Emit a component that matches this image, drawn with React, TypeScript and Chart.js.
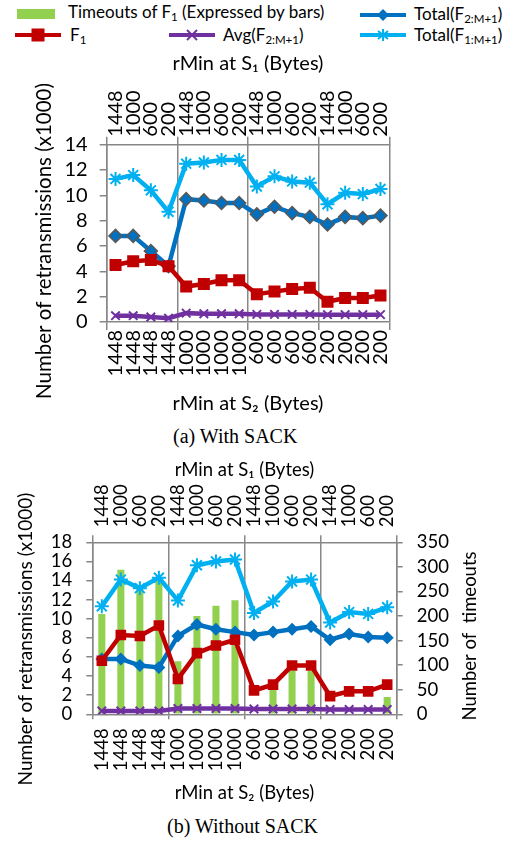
import React, { useEffect, useRef } from "react";
import { Chart, registerables } from "chart.js";

Chart.register(...registerables);

// ---------- data ----------
const S1_LABELS = ["1448", "1000", "600", "200", "1448", "1000", "600", "200", "1448", "1000", "600", "200", "1448", "1000", "600", "200"];
const S2_LABELS = ["1448", "1448", "1448", "1448", "1000", "1000", "1000", "1000", "600", "600", "600", "600", "200", "200", "200", "200"];

// (a) With SACK  (x1000 retransmissions)
const A_TOTAL_F1 = [11.3, 11.6, 10.4, 8.7, 12.5, 12.6, 12.8, 12.8, 10.7, 11.5, 11.1, 11.0, 9.3, 10.2, 10.1, 10.5];
const A_TOTAL_F2 = [6.8, 6.8, 5.6, 4.4, 9.7, 9.6, 9.4, 9.4, 8.5, 9.1, 8.6, 8.3, 7.7, 8.3, 8.2, 8.4];
const A_F1 = [4.5, 4.8, 4.9, 4.4, 2.8, 3.0, 3.3, 3.3, 2.2, 2.4, 2.6, 2.7, 1.6, 1.9, 1.9, 2.1];
const A_AVG = [0.5, 0.5, 0.4, 0.3, 0.7, 0.65, 0.65, 0.65, 0.6, 0.6, 0.6, 0.6, 0.58, 0.58, 0.58, 0.58];

// (b) Without SACK
const B_TOTAL_F1 = [11.3, 14.1, 13.2, 14.3, 11.9, 15.6, 16.0, 16.2, 10.6, 11.8, 13.9, 14.1, 9.6, 10.7, 10.5, 11.2];
const B_TOTAL_F2 = [5.8, 5.8, 5.1, 4.9, 8.2, 9.4, 8.9, 8.6, 8.3, 8.6, 8.9, 9.2, 7.8, 8.4, 8.1, 8.0];
const B_F1 = [5.6, 8.3, 8.2, 9.3, 3.7, 6.4, 7.2, 7.8, 2.5, 3.1, 5.1, 5.1, 1.9, 2.4, 2.4, 3.1];
const B_AVG = [0.35, 0.35, 0.35, 0.35, 0.6, 0.6, 0.6, 0.6, 0.55, 0.55, 0.55, 0.55, 0.5, 0.5, 0.5, 0.5];
const B_TIMEOUTS = [204, 294, 255, 272, 108, 200, 221, 232, 0, 50, 88, 88, 0, 0, 0, 35];

const Y_TITLE = "Number of retransmissions (x1000)";
const Y2_TITLE = "Number of  timeouts";

// ---------- styles ----------
const C_LIGHT = "#00B0F0";
const C_DARK = "#0070C0";
const C_RED = "#C00000";
const C_PURPLE = "#7030A0";
const C_GREEN = "#92D050";
const GRID = "#878787";
const FONT = "Lato";

const groupGrid = (ctx: any) =>
  ctx.index === undefined || ctx.index % 4 === 0 ? GRID : "rgba(0,0,0,0)";

function lineDs(label: string, data: number[], color: string, pointStyle: string, radius: number, order: number, pointBorder?: string) {
  const stroked = pointStyle === "star" || pointStyle === "crossRot";
  return {
    type: "line" as const,
    label,
    data,
    order,
    xAxisID: "x",
    yAxisID: "y",
    borderColor: color,
    backgroundColor: color,
    borderWidth: 4.5,
    tension: 0,
    pointStyle,
    pointRadius: radius,
    pointHoverRadius: radius,
    pointBackgroundColor: color,
    pointBorderColor: pointBorder || color,
    pointBorderWidth: stroked ? 2 : pointBorder ? 1.5 : 0,
  };
}

// vertical axis titles (drawn bottom-to-top, placed like the original)
function verticalTitles(items: { text: string; x: number; y: number; size: number }[]) {
  return {
    id: "verticalTitles",
    afterDraw(chart: any) {
      const ctx = chart.ctx;
      for (const it of items) {
        ctx.save();
        ctx.translate(it.x, it.y);
        ctx.rotate(-Math.PI / 2);
        ctx.fillStyle = "#000";
        ctx.font = `${it.size}px ${FONT}`;
        ctx.textAlign = "center";
        ctx.textBaseline = "middle";
        ctx.fillText(it.text, 0, 0);
        ctx.restore();
      }
    },
  };
}

function xScales(o: {
  tickSize: number; titleSize: number; bottomH: number; topH: number;
  tickLenTop: number; tickLenBottom: number; padTop: number; padBottom: number;
  titleTopPad: number; titleBottomPad: number;
}) {
  const tickFont = { family: FONT, size: o.tickSize };
  const titleFont = { family: FONT, size: o.titleSize };
  return {
    x: {
      type: "category",
      position: "bottom",
      offset: true,
      grid: { offset: true, color: groupGrid, lineWidth: 1.5, tickLength: o.tickLenBottom, drawOnChartArea: true },
      border: { color: GRID, width: 1.5 },
      ticks: { autoSkip: false, minRotation: 90, maxRotation: 90, padding: o.padBottom, color: "#000", font: tickFont },
      title: { display: true, text: "rMin at S\u2082 (Bytes)", color: "#000", font: titleFont, padding: { top: 0, bottom: o.titleBottomPad } },
      afterFit: (s: any) => { s.height = o.bottomH; },
    },
    x2: {
      type: "category",
      position: "top",
      labels: S1_LABELS,
      offset: true,
      grid: { offset: true, color: groupGrid, lineWidth: 1.5, tickLength: o.tickLenTop, drawOnChartArea: false },
      border: { color: GRID, width: 1.5 },
      ticks: {
        autoSkip: false, minRotation: 90, maxRotation: 90, padding: o.padTop, color: "#000", font: tickFont,
        labelOffset: o.tickSize * 1.2,
      },
      title: { display: true, text: "rMin at S\u2081 (Bytes)", color: "#000", font: titleFont, padding: { top: o.titleTopPad, bottom: 0 } },
      afterFit: (s: any) => { s.height = o.topH; },
    },
  };
}

function buildA(canvas: HTMLCanvasElement) {
  return new Chart(canvas, {
    type: "line",
    data: {
      labels: S2_LABELS,
      datasets: [
        lineDs("F1", A_F1, C_RED, "rect", 8.5, 0),
        lineDs("Total(F2:M+1)", A_TOTAL_F2, C_DARK, "rectRot", 6.5, 1, "#595959"),
        lineDs("Total(F1:M+1)", A_TOTAL_F1, C_LIGHT, "star", 7, 2),
        lineDs("Avg(F2:M+1)", A_AVG, C_PURPLE, "crossRot", 6, 3),
      ] as any,
    },
    plugins: [verticalTitles([{ text: Y_TITLE, x: 44, y: 241 - 48, size: 20.5 }])],
    options: {
      responsive: false,
      animation: false,
      events: [],
      layout: { padding: { left: 0, right: 128.7, top: 0, bottom: 0 } },
      plugins: { legend: { display: false }, tooltip: { enabled: false } },
      scales: {
        ...xScales({ tickSize: 20, titleSize: 20, bottomH: 100, topH: 96.7, tickLenTop: 8, tickLenBottom: 8, padTop: 0, padBottom: 0, titleTopPad: 4, titleBottomPad: 6 }),
        y: {
          type: "linear",
          position: "left",
          min: 0,
          max: 14,
          ticks: { stepSize: 2, autoSkip: false, padding: 12, color: "#000", font: { family: FONT, size: 20 } },
          grid: { drawOnChartArea: false, color: GRID, lineWidth: 1.5, tickLength: 7 },
          border: { color: GRID, width: 1.5 },
          title: { display: false },
          afterFit: (s: any) => { s.width = 106.7; },
        },
      } as any,
    },
  });
}

function buildB(canvas: HTMLCanvasElement) {
  return new Chart(canvas, {
    type: "bar",
    data: {
      labels: S2_LABELS,
      datasets: [
        {
          type: "bar",
          label: "Timeouts of F1 (Expressed by bars)",
          data: B_TIMEOUTS,
          backgroundColor: C_GREEN,
          xAxisID: "x",
          yAxisID: "y2",
          barPercentage: 0.37,
          categoryPercentage: 1,
          order: 10,
        },
        lineDs("F1", B_F1, C_RED, "rect", 7.5, 0),
        lineDs("Total(F2:M+1)", B_TOTAL_F2, C_DARK, "rectRot", 6.5, 1),
        lineDs("Total(F1:M+1)", B_TOTAL_F1, C_LIGHT, "star", 7, 2),
        lineDs("Avg(F2:M+1)", B_AVG, C_PURPLE, "crossRot", 6, 3),
      ] as any,
    },
    plugins: [
      verticalTitles([
        { text: Y_TITLE, x: 26, y: 639 - 444, size: 19 },
        { text: Y2_TITLE, x: 470, y: 636 - 444, size: 18.5 },
      ]),
    ],
    options: {
      responsive: false,
      animation: false,
      events: [],
      layout: { padding: 0 },
      plugins: { legend: { display: false }, tooltip: { enabled: false } },
      scales: {
        ...xScales({ tickSize: 18.5, titleSize: 18.5, bottomH: 91.7, topH: 98.3, tickLenTop: 7, tickLenBottom: 5, padTop: 8, padBottom: 9, titleTopPad: 15, titleBottomPad: 2 }),
        y: {
          type: "linear",
          position: "left",
          min: 0,
          max: 18,
          ticks: { stepSize: 2, autoSkip: false, padding: 14, color: "#000", font: { family: FONT, size: 18.5 } },
          grid: { drawOnChartArea: false, color: GRID, lineWidth: 1.5, tickLength: 6 },
          border: { color: GRID, width: 1.5 },
          title: { display: false },
          afterFit: (s: any) => { s.width = 92.3; },
        },
        y2: {
          type: "linear",
          position: "right",
          min: 0,
          max: 350,
          ticks: { stepSize: 50, autoSkip: false, padding: 14, color: "#000", font: { family: FONT, size: 18.5 } },
          grid: { drawOnChartArea: false, color: GRID, lineWidth: 1.5, tickLength: 6 },
          border: { color: GRID, width: 1.5 },
          afterFit: (s: any) => { s.width = 121.3; },
        },
      } as any,
    },
  });
}

// ---------- legend ----------
function Marker({ kind, color }: { kind: string; color: string }) {
  const cx = 23, cy = 8;
  let m: any = null;
  if (kind === "diamond") m = <polygon points={`${cx},${cy - 6} ${cx + 6},${cy} ${cx},${cy + 6} ${cx - 6},${cy}`} fill={color} />;
  if (kind === "square") m = <rect x={cx - 6.5} y={cy - 6.5} width={13} height={13} fill={color} />;
  if (kind === "x") m = (
    <g stroke={color} strokeWidth={2}>
      <line x1={cx - 5} y1={cy - 5} x2={cx + 5} y2={cy + 5} />
      <line x1={cx - 5} y1={cy + 5} x2={cx + 5} y2={cy - 5} />
    </g>
  );
  if (kind === "star") m = (
    <g stroke={color} strokeWidth={2}>
      <line x1={cx} y1={cy - 6} x2={cx} y2={cy + 6} />
      <line x1={cx - 5} y1={cy - 4} x2={cx + 5} y2={cy + 4} />
      <line x1={cx - 5} y1={cy + 4} x2={cx + 5} y2={cy - 4} />
    </g>
  );
  return (
    <svg width={46} height={16} style={{ display: "block" }}>
      <line x1={0} y1={cy} x2={46} y2={cy} stroke={color} strokeWidth={4} />
      {m}
    </svg>
  );
}

const subStyle: React.CSSProperties = { fontSize: 11.5, verticalAlign: "-3px", lineHeight: 0 };
const textStyle = (left: number, cy: number): React.CSSProperties => ({
  position: "absolute", left, top: cy - 11, height: 22, lineHeight: "22px",
  fontFamily: FONT, fontSize: 17, color: "#000", whiteSpace: "nowrap",
});

function Legend() {
  return (
    <>
      <div style={{ position: "absolute", left: 17, top: 9, width: 38, height: 10, background: C_GREEN }} />
      <div style={textStyle(68, 12)}>Timeouts of F<sub style={subStyle}>1</sub> (Expressed by bars)</div>

      <div style={{ position: "absolute", left: 360, top: 14.7 - 8 }}><Marker kind="diamond" color={C_DARK} /></div>
      <div style={textStyle(414, 14)}>Total(F<sub style={subStyle}>2:M+1</sub>)</div>

      <div style={{ position: "absolute", left: 15, top: 35 - 8 }}><Marker kind="square" color={C_RED} /></div>
      <div style={textStyle(70, 35)}>F<sub style={subStyle}>1</sub></div>

      <div style={{ position: "absolute", left: 169, top: 35 - 8 }}><Marker kind="x" color={C_PURPLE} /></div>
      <div style={textStyle(223, 35)}>Avg(F<sub style={subStyle}>2:M+1</sub>)</div>

      <div style={{ position: "absolute", left: 360, top: 35 - 8 }}><Marker kind="star" color={C_LIGHT} /></div>
      <div style={textStyle(414, 35)}>Total(F<sub style={subStyle}>1:M+1</sub>)</div>
    </>
  );
}

export default function App() {
  const refA = useRef<HTMLCanvasElement>(null);
  const refB = useRef<HTMLCanvasElement>(null);

  useEffect(() => {
    const a = buildA(refA.current!);
    const b = buildB(refB.current!);
    return () => {
      a.destroy();
      b.destroy();
    };
  }, []);

  const caption = (left: number, cy: number): React.CSSProperties => ({
    position: "absolute", left, top: cy - 12, height: 24, lineHeight: "24px",
    fontFamily: "'Liberation Serif', serif", fontSize: 20, color: "#000", whiteSpace: "nowrap",
  });

  return (
    <div style={{ position: "absolute", left: 0, top: 0, width: 518, height: 842, background: "#fff" }}>
      <Legend />
      <canvas ref={refA} width={518} height={374} style={{ position: "absolute", left: 0, top: 48, width: 518, height: 374 }} />
      <div style={caption(173, 436)}>(a) With SACK</div>
      <canvas ref={refB} width={518} height={362} style={{ position: "absolute", left: 0, top: 444, width: 518, height: 362 }} />
      <div style={caption(167, 826)}>(b) Without SACK</div>
    </div>
  );
}
